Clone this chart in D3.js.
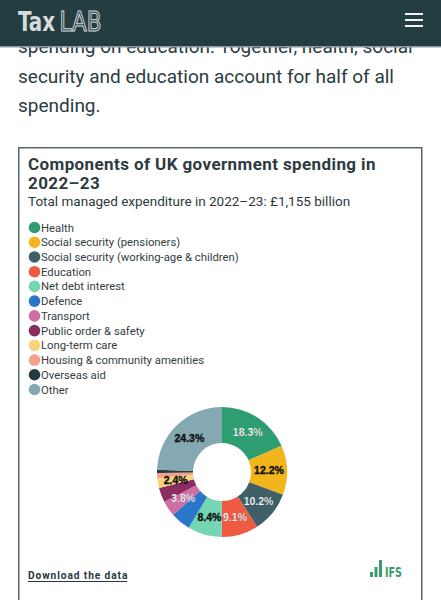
<!DOCTYPE html>
<html>
<head>
<meta charset="utf-8">
<script src="https://cdn.jsdelivr.net/npm/d3@7"></script>
<style>
  html, body { margin: 0; padding: 0; background: #fff; }
  svg { display: block; }
</style>
</head>
<body>
<div id="root"></div>
<script>
const categories = [
  "Health",
  "Social security (pensioners)",
  "Social security (working-age & children)",
  "Education",
  "Net debt interest",
  "Defence",
  "Transport",
  "Public order & safety",
  "Long-term care",
  "Housing & community amenities",
  "Overseas aid",
  "Other"
];
const shares = [18.3, 12.2, 10.2, 9.1, 8.4, 5.0, 3.8, 3.6, 2.4, 1.3, 0.8, 24.3];
const colors = ["#2e9e72", "#f2b51c", "#3e5f68", "#ee5b42", "#74d6b2", "#2a77c9",
                "#cd6fa2", "#8c2d62", "#f8d37a", "#f3a08c", "#233a40", "#85a9b3"];
const labelledCategories = ["Health", "Social security (pensioners)", "Social security (working-age & children)",
  "Education", "Net debt interest", "Transport", "Long-term care", "Other"];
const whiteLabelCategories = ["Health", "Social security (working-age & children)", "Education", "Transport"];
const introLines = [
  "spending on education. Together, health, social",
  "security and education account for half of all",
  "spending."
];
const titleLines = ["Components of UK government spending in", "2022\u201323"];
const subtitle = "Total managed expenditure in 2022\u201323: \u00a31,155 billion";

const W = 441, H = 600;
const svg = d3.select("#root").append("svg").attr("width", W).attr("height", H);

// intro paragraph (partly under header)
const intro = svg.append("g").attr("font-family", "Roboto, sans-serif").attr("font-size", 19).attr("fill", "#2a3b40");
introLines.forEach((t, i) => {
  intro.append("text").attr("x", 18).attr("y", 53 + i * 29.5).text(t);
});

// header
svg.append("rect").attr("x", 0).attr("y", 0).attr("width", W).attr("height", 46).attr("fill", "#243d41");
svg.append("rect").attr("x", 0).attr("y", 46).attr("width", W).attr("height", 1.5).attr("fill", "#8c9a9d");
svg.append("text").attr("x", 18).attr("y", 31).attr("font-family", "'DejaVu Sans Condensed', 'Liberation Sans Narrow', sans-serif")
  .attr("font-weight", "bold").attr("font-size", 27).attr("fill", "#d5dcdd").attr("textLength", 37).attr("lengthAdjust", "spacingAndGlyphs").text("Tax");
svg.append("text").attr("x", 59.5).attr("y", 31).attr("font-family", "'DejaVu Sans Condensed', 'Liberation Sans Narrow', sans-serif")
  .attr("font-size", 27).attr("fill", "none").attr("stroke", "#d5dcdd").attr("stroke-width", 1).attr("textLength", 42).attr("lengthAdjust", "spacingAndGlyphs").text("LAB");
[14, 20, 26].forEach(y => {
  svg.append("rect").attr("x", 405).attr("y", y - 1).attr("width", 18).attr("height", 2).attr("fill", "#eef2f2");
});

// chart box
svg.append("rect").attr("x", 18.75).attr("y", 147.75).attr("width", 403).attr("height", 470)
  .attr("fill", "#fff").attr("stroke", "#566569").attr("stroke-width", 1.5);

const tg = svg.append("g").attr("font-family", "Roboto, sans-serif").attr("fill", "#2d3a3e");
titleLines.forEach((t, i) => {
  tg.append("text").attr("x", 28).attr("y", 169.5 + i * 19.5).attr("font-size", 17).attr("font-weight", "bold")
    .attr("letter-spacing", 0.4).text(t);
});
tg.append("text").attr("x", 28).attr("y", 206).attr("font-size", 13.5).text(subtitle);

// legend
const legend = svg.append("g").attr("font-family", "Roboto, sans-serif").attr("font-size", 11.3).attr("fill", "#333e42");
const ly = d3.scalePoint().domain(categories).range([227.5, 389.5]);
categories.forEach((c, i) => {
  const g = legend.append("g").attr("transform", `translate(0,${ly(c)})`);
  g.append("circle").attr("cx", 34.5).attr("cy", 0).attr("r", 5.8).attr("fill", colors[i]);
  g.append("text").attr("x", 41).attr("y", 0).attr("dy", "0.36em").text(c);
});

// pie
const cx = 222, cy = 472, rOuter = 65, rInner = 29;
const color = d3.scaleOrdinal().domain(categories).range(colors);
const pie = d3.pie().sort(null).value(d => d.value);
const data = categories.map((c, i) => ({ name: c, value: shares[i] }));
const arcs = pie(data);
const arc = d3.arc().innerRadius(rInner).outerRadius(rOuter);
const pg = svg.append("g").attr("transform", `translate(${cx},${cy})`);
pg.selectAll("path").data(arcs).join("path").attr("d", arc).attr("fill", d => color(d.data.name));
pg.selectAll("text").data(arcs.filter(d => labelledCategories.includes(d.data.name))).join("text")
  .attr("transform", d => `translate(${arc.centroid(d)})`)
  .attr("text-anchor", "middle").attr("dy", "0.35em")
  .attr("font-family", "'Liberation Sans', Arial, sans-serif").attr("font-weight", "bold").attr("font-size", 10.5)
  .attr("fill", d => whiteLabelCategories.includes(d.data.name) ? "#ffffff" : "#111111")
  .attr("stroke", d => whiteLabelCategories.includes(d.data.name) ? "#1a1a1a" : "#111111")
  .attr("stroke-width", d => whiteLabelCategories.includes(d.data.name) ? 0.15 : 0.35)
  .text(d => d3.format(".1f")(d.data.value) + "%");

// footer
const dl = svg.append("text").attr("x", 28).attr("y", 579).attr("font-family", "Roboto, sans-serif")
  .attr("font-weight", "bold").attr("font-size", 10.2).attr("letter-spacing", 0.9).attr("fill", "#2a383c").text("Download the data");
const bb = dl.node().getBBox();
svg.append("rect").attr("x", 28).attr("y", 581).attr("width", bb.width - 1).attr("height", 1).attr("fill", "#2a383c");

// IFS logo
const logo = svg.append("g").attr("fill", "#3a9c6c");
[[370, 572, 3], [374.5, 567, 3], [379, 560, 3]].forEach(([x, y, w]) => {
  logo.append("rect").attr("x", x).attr("y", y).attr("width", w).attr("height", 577 - y);
});
logo.append("text").attr("x", 385).attr("y", 577).attr("font-family", "'DejaVu Sans Condensed', 'Liberation Sans Narrow', sans-serif")
  .attr("font-weight", "bold").attr("font-size", 14).attr("textLength", 17).attr("lengthAdjust", "spacingAndGlyphs").text("IFS");
</script>
</body>
</html>
